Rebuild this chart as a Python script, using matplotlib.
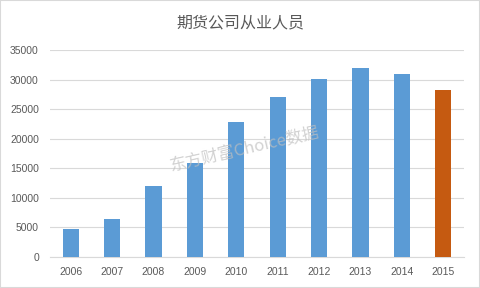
import matplotlib
matplotlib.use('Agg')
from matplotlib import pyplot as plt

plt.rcParams['font.family'] = ['Noto Sans CJK SC', 'DejaVu Sans']

# Data
years = ['2006', '2007', '2008', '2009', '2010', '2011', '2012', '2013', '2014', '2015']
staff = [4780, 6470, 12040, 15930, 22850, 27080, 30120, 32030, 30960, 28260]
colors = ['#5B9BD5'] * 9 + ['#C55A11']

fig = plt.figure(figsize=(4.8, 2.88), dpi=100)
ax = fig.add_axes([50 / 480, 1 - 257 / 288, 414 / 480, 207 / 288])

ax.bar(range(len(years)), staff, width=0.39, color=colors, zorder=3)

ax.set_xlim(-0.5, 9.5)
ax.set_ylim(0, 35000)
ax.set_yticks(range(0, 35001, 5000))
ax.set_xticks(range(len(years)))
ax.set_xticklabels(years)
ax.grid(axis='y', color='#D9D9D9', linewidth=0.8, zorder=0)

for s in ['top', 'right', 'left']:
    ax.spines[s].set_visible(False)
ax.spines['bottom'].set_color('#D9D9D9')
ax.tick_params(length=0, labelsize=7.5, colors='#595959')
ax.tick_params(axis='x', pad=7)
ax.tick_params(axis='y', pad=8)
for lab in ax.get_xticklabels() + ax.get_yticklabels():
    lab.set_family(['Liberation Sans', 'DejaVu Sans'])

fig.text(0.5, 1 - 23 / 288, '期货公司从业人员', ha='center', va='center',
         fontsize=11.5, color='#595959')

# watermark
fig.text(245 / 480, 1 - 150 / 288, '东方财富Choice数据', ha='center', va='center',
         fontsize=12, color='#BFBFBF', alpha=0.7, rotation=13, zorder=5)

# thin border around the image
fig.patches.append(plt.Rectangle((0, 0), 1, 1, transform=fig.transFigure,
                                 fill=False, edgecolor='#D9D9D9', linewidth=1.5))

fig.savefig('out.png', dpi=100)
